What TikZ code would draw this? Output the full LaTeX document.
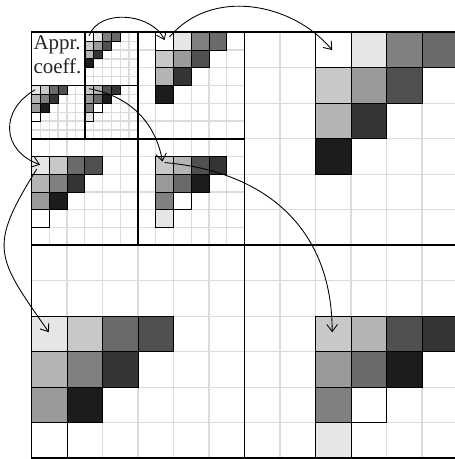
\documentclass[tikz,border=0pt]{standalone}
\usepackage{fontspec}
\setmainfont{Liberation Serif}
\usetikzlibrary{arrows.meta}
\definecolor{gridgray}{HTML}{DCDCDC}
\definecolor{shadeA}{HTML}{E6E6E6}
\definecolor{shadeB}{HTML}{C8C8C8}
\definecolor{shadeC}{HTML}{B4B4B4}
\definecolor{shadeD}{HTML}{9A9A9A}
\definecolor{shadeE}{HTML}{808080}
\definecolor{shadeF}{HTML}{6A6A6A}
\definecolor{shadeG}{HTML}{505050}
\definecolor{shadeH}{HTML}{333533}
\definecolor{shadeI}{HTML}{1C1C1C}
% col/row/colour of the ten coefficients in a triangle
\newcommand{\horzlist}{0/0/white,1/0/shadeA,2/0/shadeE,3/0/shadeF,0/1/shadeB,1/1/shadeD,2/1/shadeG,0/2/shadeC,1/2/shadeH,0/3/shadeI}
\newcommand{\vertlist}{0/0/shadeA,1/0/shadeB,2/0/shadeF,3/0/shadeG,0/1/shadeC,1/1/shadeE,2/1/shadeH,0/2/shadeD,1/2/shadeI,0/3/white}
\newcommand{\diaglist}{0/0/shadeB,1/0/shadeC,2/0/shadeG,3/0/shadeH,0/1/shadeD,1/1/shadeF,2/1/shadeI,0/2/shadeE,1/2/white,0/3/shadeA}
% top-left x, top-left y, cell size, list
\newcommand{\coeftri}[4]{%
  \foreach \ci/\ri/\fc in #4
    \draw[cellbox,fill=\fc] ({#1+\ci*#3},{#2-\ri*#3}) rectangle ++(#3,-#3);}
\begin{document}
\begin{tikzpicture}[
  gridline/.style={draw=gridgray,line width=1pt},
  cellbox/.style={draw=black,line width=0.7pt},
  blockline/.style={line width=1.5pt},
  coefarrow/.style={-{Straight Barb[length=2mm,width=3mm]},line width=0.7pt}]
  \useasboundingbox (-0.887,-0.02) rectangle (11.93,12.91);
  % grids of the three levels
  \draw[gridline,step=1] (0,0) grid (12,12);
  \draw[gridline,step=0.5] (0,6) grid (6,12);
  \draw[gridline,step=0.25] (0,9) grid (3,12);
  \fill[white] (0,10.5) rectangle (1.5,12);
  % level 1 details
  \coeftri{8}{12}{1}{\horzlist}
  \coeftri{0}{4}{1}{\vertlist}
  \coeftri{8}{4}{1}{\diaglist}
  % level 2 details
  \coeftri{3.5}{12}{0.5}{\horzlist}
  \coeftri{0}{8.5}{0.5}{\vertlist}
  \coeftri{3.5}{8.5}{0.5}{\diaglist}
  % level 3 details
  \coeftri{1.5}{12}{0.25}{\horzlist}
  \coeftri{0}{10.5}{0.25}{\vertlist}
  \coeftri{1.5}{10.5}{0.25}{\diaglist}
  % block borders
  \draw[blockline] (0,0) rectangle (12,12);
  \draw[blockline] (6,0) -- (6,12) (0,6) -- (12,6);
  \draw[blockline] (3,6) -- (3,12) (0,9) -- (6,9);
  \draw[blockline] (1.5,9) -- (1.5,12) (0,10.5) -- (3,10.5);
  % approximation label
  \node[anchor=north west,inner sep=0pt,align=left,text=black!85,font=\fontsize{16.8}{18.6}\selectfont] (appr) at (0.05,11.9) {Appr.\\coeff.};
  % arrow ends
  \coordinate (h3) at (1.62,11.9);
  \coordinate (h2in) at (3.75,11.78);
  \coordinate (h2out) at (3.89,11.87);
  \coordinate (h1) at (8.47,11.5);
  \coordinate (v3) at (0.1,10.38);
  \coordinate (v2in) at (0.24,8.27);
  \coordinate (v2out) at (0.15,8.15);
  \coordinate (v1) at (0.49,3.55);
  \coordinate (d3) at (1.62,10.41);
  \coordinate (d2in) at (3.69,8.36);
  \coordinate (d2out) at (3.75,8.33);
  \coordinate (d1) at (8.47,3.55);
  \draw[coefarrow] (h3) to[out=70,in=115] (h2in);
  \draw[coefarrow] (h2out) to[out=50,in=130] (h1);
  \draw[coefarrow] (v3) to[out=210,in=160,looseness=1.4] (v2in);
  \draw[coefarrow] (v2out) to[out=238,in=125,looseness=1.45] (v1);
  \draw[coefarrow] (d3) to[out=-10,in=100] (d2in);
  \draw[coefarrow] (d2out) to[out=-5,in=90,looseness=1.1] (d1);
\end{tikzpicture}
\end{document}
